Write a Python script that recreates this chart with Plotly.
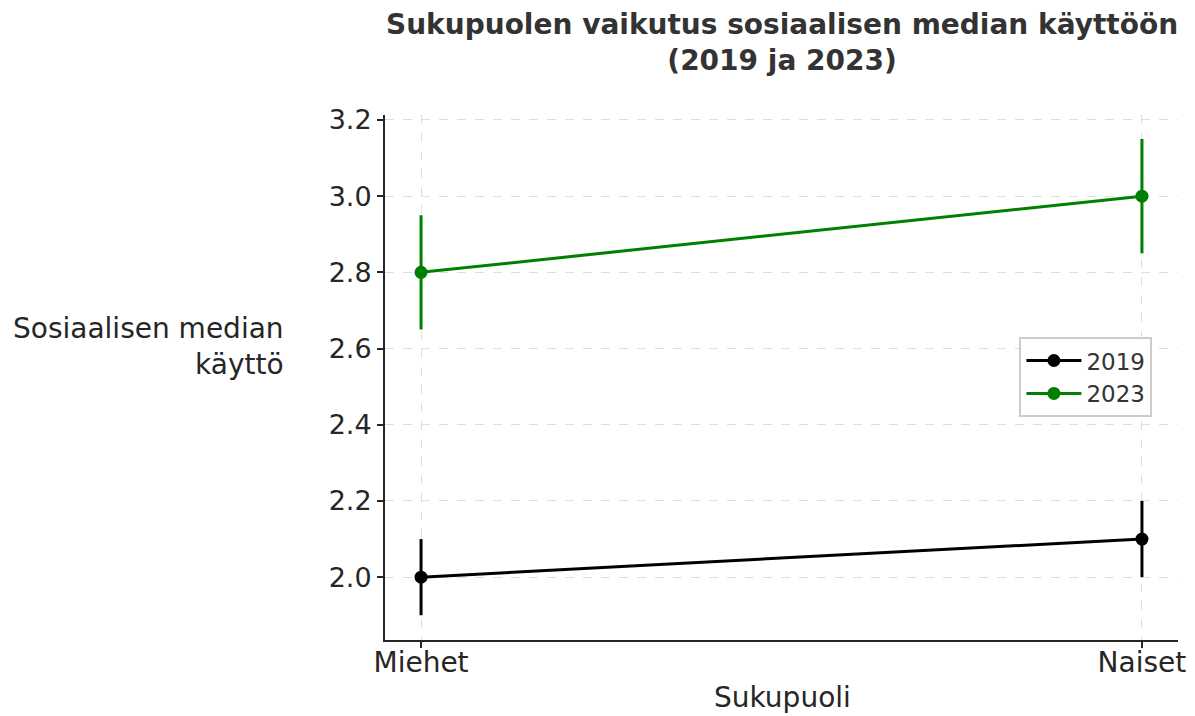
import plotly.graph_objects as go

categories = ["Miehet", "Naiset"]
years = ["2019", "2023"]
values_2019 = [2.0, 2.1]
errors_2019 = [0.1, 0.1]
values_2023 = [2.8, 3.0]
errors_2023 = [0.15, 0.15]
colors = ["black", "green"]

fig = go.Figure()
for name, vals, errs, col in [("2019", values_2019, errors_2019, colors[0]),
                              ("2023", values_2023, errors_2023, colors[1])]:
    fig.add_trace(go.Scatter(
        x=[0, 1], y=vals, name=name, mode="lines+markers",
        line=dict(color=col, width=3),
        marker=dict(color=col, size=13),
        error_y=dict(type="data", array=errs, visible=True, color=col, thickness=3, width=0),
    ))

font = "DejaVu Sans"
fig.update_layout(
    width=1195, height=716,
    paper_bgcolor="white", plot_bgcolor="white",
    margin=dict(l=377, r=25, t=107, b=84, autoexpand=False),
    font=dict(family=font, size=27, color="#262626"),
    showlegend=True,
    legend=dict(x=0.80, y=0.577, xanchor="left", yanchor="top",
                bgcolor="white", bordercolor="#cccccc", borderwidth=2,
                font=dict(family=font, size=23, color="#333333"),
                itemwidth=55, tracegroupgap=4),
    annotations=[
        dict(text="<b>Sukupuolen vaikutus sosiaalisen median käyttöön<br>(2019 ja 2023)</b>",
             xref="paper", yref="paper", x=(782 - 385) / 793, y=1 + (115 - 6) / 525,
             xanchor="center", yanchor="top", align="center", showarrow=False,
             font=dict(family=font, size=28, color="#333333")),
        dict(text="Sosiaalisen median<br>käyttö", xref="paper", yref="paper",
             x=-(385 - 286) / 793, y=1 - (346 - 115) / 525, xanchor="right", yanchor="middle",
             align="right", showarrow=False,
             font=dict(family=font, size=28, color="#262626")),
        dict(text="Sukupuoli", xref="paper", yref="paper",
             x=(782 - 385) / 793, y=-(697 - 640) / 525, xanchor="center", yanchor="middle",
             showarrow=False, font=dict(family=font, size=28, color="#262626")),
    ],
)
fig.update_xaxes(
    range=[-0.05, 1.05], tickvals=[0, 1], ticktext=categories,
    showline=True, linecolor="#262626", linewidth=2,
    ticks="outside", ticklen=6, tickwidth=2, tickcolor="#262626",
    showgrid=True, gridcolor="#dddddd", griddash="dash", gridwidth=1,
    zeroline=False, tickfont=dict(size=28), automargin=False,
    ticklabelstandoff=-10,
)
fig.update_yaxes(
    range=[1.835, 3.213], tickvals=[2.0, 2.2, 2.4, 2.6, 2.8, 3.0, 3.2],
    ticktext=["2.0", "2.2", "2.4", "2.6", "2.8", "3.0", "3.2"],
    showline=True, linecolor="#262626", linewidth=2,
    ticks="outside", ticklen=6, tickwidth=2, tickcolor="#262626",
    showgrid=True, gridcolor="#dddddd", griddash="dash", gridwidth=1,
    zeroline=False, tickfont=dict(size=27), automargin=False,
)
fig.write_html("out.html")
